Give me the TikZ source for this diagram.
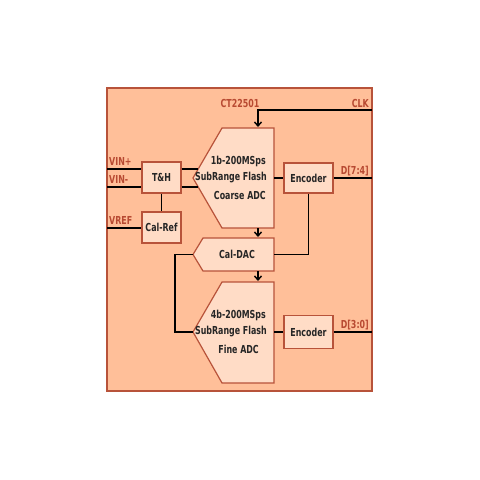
\documentclass[tikz,border=0pt]{standalone}
\usepackage{fontspec}
\setmainfont{DejaVu Sans Condensed}[FakeStretch=0.8]
\usetikzlibrary{arrows.meta}
\definecolor{outerfill}{HTML}{FFBF99}
\definecolor{boxfill}{HTML}{FFDCC6}
\definecolor{edge}{HTML}{B8533A}
\definecolor{lbl}{HTML}{B84A32}
\tikzset{
  blk/.style={draw=edge, fill=boxfill, line width=1.2pt},
  wire/.style={draw=black, line width=1.4pt},
  arr/.style={wire, -{Straight Barb[length=4pt,width=7pt]}},
  txt/.style={font=\bfseries\fontsize{11}{12}\selectfont, text=black!85, inner sep=0pt},
  pin/.style={font=\bfseries\fontsize{11}{12}\selectfont, text=lbl, inner sep=1pt},
}
\begin{document}
\begin{tikzpicture}[x=1pt,y=-1pt]
\useasboundingbox (0,0) rectangle (480,480);
% outer
\draw[draw=edge, fill=outerfill, line width=1.2pt] (107,88) rectangle (372,391);
\node[pin, anchor=base] (chip) at (240,107) {CT22501};
% coarse ADC
\draw[blk] (222,128) -- (274,128) -- (274,228) -- (222,228) -- (193,178) -- cycle;
\node[txt, anchor=east] (c1) at (266,161) {1b-200MSps};
\node[txt, anchor=east] (c2) at (267,178) {SubRange Flash};
\node[txt, anchor=east] (c3) at (266,195) {Coarse ADC};
% fine ADC
\draw[blk] (222,282) -- (274,282) -- (274,383) -- (222,383) -- (193,332) -- cycle;
\node[txt, anchor=east] (f1) at (266,315) {4b-200MSps};
\node[txt, anchor=east] (f2) at (267,332) {SubRange Flash};
\node[txt, anchor=east] (f3) at (259,349) {Fine ADC};
% Cal-DAC
\draw[blk] (203,238) -- (274,238) -- (274,271) -- (203,271) -- (193,254.5) -- cycle;
\node[txt] (cdac) at (237,254.5) {Cal-DAC};
% T&H, Cal-Ref
\node[blk, txt, minimum width=39pt, minimum height=31pt] (th) at (161.5,177.5) {T\&H};
\node[blk, txt, minimum width=39pt, minimum height=31pt] (cref) at (161.5,227.5) {Cal-Ref};
% Encoders
\node[blk, txt, minimum width=49pt, minimum height=30pt] (enc1) at (308.5,178) {Encoder};
\node[blk, txt, minimum width=49pt, minimum height=33pt] (enc2) at (308.5,332) {Encoder};
% CLK
\coordinate (clkR) at (372,110);
\node[pin, anchor=base east] (clk) at (370,107) {CLK};
\draw[arr] (clkR) -- (258,110) -- (258,127);
% inputs
\coordinate (vinp) at (107,169);
\coordinate (vinm) at (107,187);
\coordinate (vref) at (107,228);
\node[pin, anchor=base west] (lvinp) at (108,165.5) {VIN+};
\node[pin, anchor=base west] (lvinm) at (108,183.5) {VIN-};
\node[pin, anchor=base west] (lvref) at (108,224.5) {VREF};
\draw[wire] (vinp) -- (vinp -| th.west);
\draw[wire] (vinm) -- (vinm -| th.west);
\draw[wire] (vref) -- (vref -| cref.west);
\draw[wire] (th.south) -- (cref.north);
\draw[wire] (th.east |- vinp) -- (198,169);
\draw[wire] (th.east |- vinm) -- (198,187);
% adc to encoder
\draw[wire] (274,178) -- (enc1.west);
\draw[wire] (274,332) -- (enc2.west);
% outputs
\coordinate (d74) at (372,178);
\coordinate (d30) at (372,332);
\draw[wire] (enc1.east) -- (d74);
\draw[wire] (enc2.east) -- (d30);
\node[pin, anchor=base east] (ld74) at (370,174.5) {D[7:4]};
\node[pin, anchor=base east] (ld30) at (370,328.5) {D[3:0]};
% encoder to cal-dac
\draw[wire] (enc1.south) -- (308.5,254.5) -- (274,254.5);
% arrows
\draw[arr] (258,228) -- (258,237);
\draw[arr] (258,271) -- (258,281);
% cal-dac to fine adc
\draw[wire] (193,254.5) -- (175,254.5) -- (175,332) -- (193,332);
\end{tikzpicture}
\end{document}
